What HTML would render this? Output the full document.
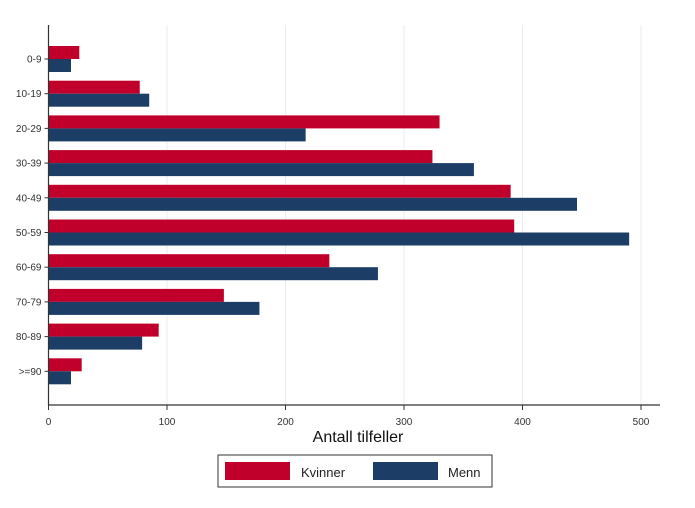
<!DOCTYPE html>
<html><head><meta charset="utf-8"><style>
html,body{margin:0;padding:0;background:#fff;}
svg text{font-family:"Liberation Sans",sans-serif;}
</style></head><body>
<svg id="chart" width="695" height="503" xmlns="http://www.w3.org/2000/svg">
<rect x="0" y="0" width="695" height="503" fill="#fff"/>
<g id="grid"></g><g id="bars"></g><g id="axes"></g>
<text x="358" y="442" font-size="16" text-anchor="middle" fill="#111">Antall tilfeller</text>
<g>
<rect x="218" y="455" width="274" height="32" fill="#fff" stroke="#333" stroke-width="1"/>
<rect x="225" y="462" width="65" height="18" fill="#c0002a"/>
<text x="301" y="477" font-size="13" fill="#222">Kvinner</text>
<rect x="373" y="462" width="65" height="18" fill="#1b3d66"/>
<text x="448" y="477" font-size="13" fill="#222">Menn</text>
</g>
</svg>
<script>
const categories=["0-9","10-19","20-29","30-39","40-49","50-59","60-69","70-79","80-89",">=90"];
const kvinner=[26,77,330,324,390,393,237,148,93,28];
const menn=[19,85,217,359,446,490,278,178,79,19];
const xTicks=[0,100,200,300,400,500];
const NS="http://www.w3.org/2000/svg";
const x0=48.5, pxPer=1.185, plotTop=25, plotBottom=405, xEnd=660;
const groupTop0=46, pitch=34.7, barH=13;
function xs(v){return x0+v*pxPer;}
function yGroup(i){return groupTop0+i*pitch;}
function mk(tag,attrs,parent){const e=document.createElementNS(NS,tag);for(const k in attrs)e.setAttribute(k,attrs[k]);parent.appendChild(e);return e;}
const grid=document.getElementById('grid'),bars=document.getElementById('bars'),axes=document.getElementById('axes');
xTicks.forEach(t=>{
  if(t>0){const g=mk('line',{x1:xs(t),x2:xs(t),y1:plotTop,y2:plotBottom,stroke:'#e6edf3','stroke-width':1},grid);
  
  }
  const tk=mk('line',{x1:xs(t),x2:xs(t),y1:plotBottom,y2:plotBottom+5,stroke:'#333'},axes);
  
  
  const tl=mk('text',{x:xs(t),y:plotBottom+20,'font-size':10,'text-anchor':'middle',fill:'#333'},axes);
  tl.textContent=t;
  
  
});
categories.forEach((c,i)=>{
  const y=yGroup(i);
  const r=mk('rect',{x:x0,y:y,width:kvinner[i]*pxPer,height:barH,fill:'#c0002a'},bars);
  
  
  const b=mk('rect',{x:x0,y:y+barH,width:menn[i]*pxPer,height:barH,fill:'#1b3d66'},bars);
  
  
  const tk=mk('line',{x1:x0-4,x2:x0,y1:y+barH,y2:y+barH,stroke:'#333'},axes);
  
  
  const t=mk('text',{x:x0-7,y:y+barH+3.5,'font-size':10,'text-anchor':'end',fill:'#333'},axes);
  t.textContent=c;
  
  
});
const ya=mk('line',{x1:x0,x2:x0,y1:plotTop,y2:plotBottom,stroke:'#333','stroke-width':1.2},axes);


const xa=mk('line',{x1:x0,x2:xEnd,y1:plotBottom,y2:plotBottom,stroke:'#333','stroke-width':1.2},axes);


</script>
</body></html>
